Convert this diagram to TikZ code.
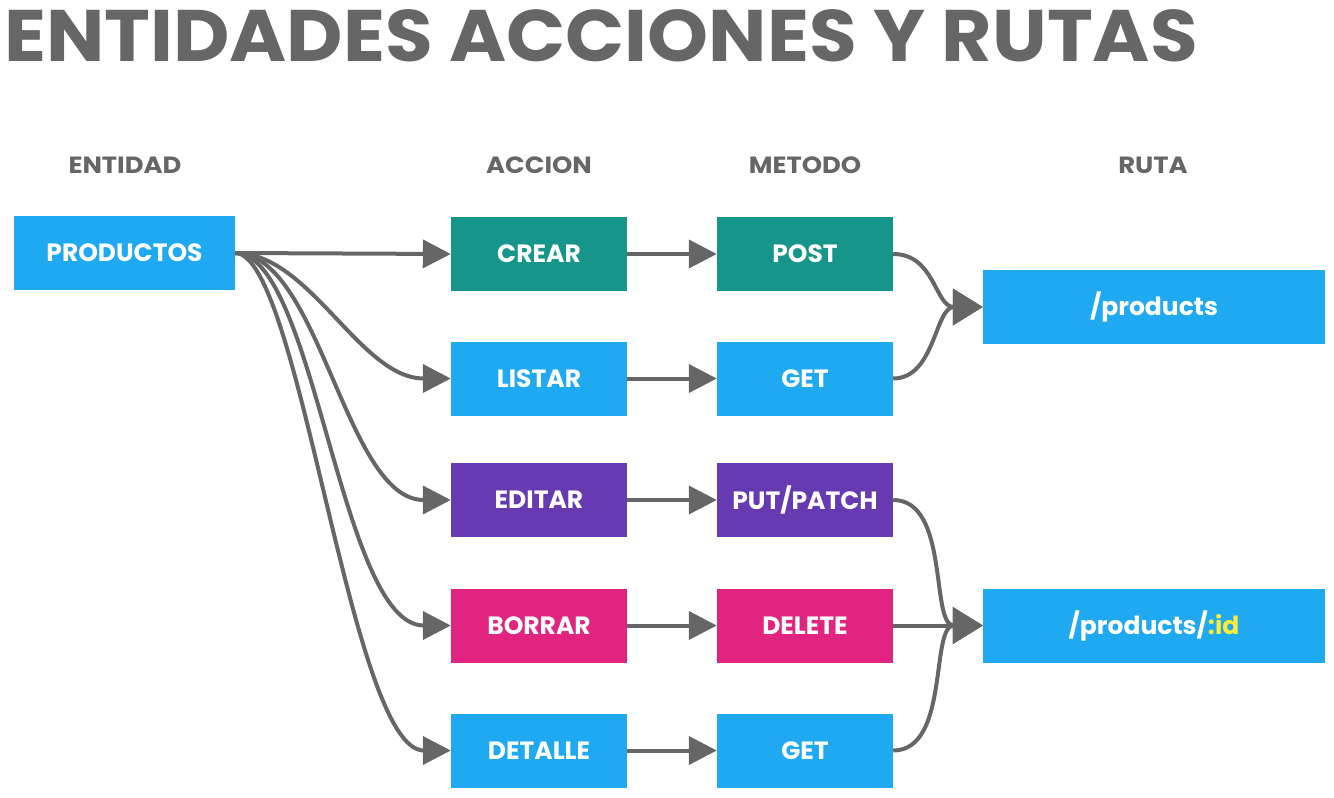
\documentclass[tikz,border=0pt]{standalone}
\usepackage{fontspec}
\setmainfont{Poppins}
\usetikzlibrary{arrows.meta}
\definecolor{cteal}{HTML}{16968A}
\definecolor{cblue}{HTML}{1EA9F0}
\definecolor{cpurple}{HTML}{673AB2}
\definecolor{cpink}{HTML}{E0247F}
\definecolor{cgray}{HTML}{666666}
\definecolor{cyellow}{HTML}{FFEB3B}
\newcommand{\hx}[1]{\scalebox{1.1}[1]{#1}}
\tikzset{
  box/.style={rectangle, inner sep=0pt, minimum width=176pt, minimum height=74pt, text=white, font=\fontsize{25}{28}\selectfont\bfseries},
  routebox/.style={box, minimum width=342pt, fill=cblue},
  header/.style={text=cgray, font=\fontsize{23.5}{26}\selectfont\bfseries},
  conn/.style={draw=cgray, line width=4pt, -{Triangle[length=28pt,width=28pt]}},
  rconn/.style={draw=cgray, line width=4pt, -{Triangle[length=30pt,width=36pt]}},
}
\begin{document}
\begin{tikzpicture}[x=1pt,y=-1pt]
\useasboundingbox (0,0) rectangle (1334,798);
\node[anchor=west, text=cgray, font=\fontsize{73}{80}\selectfont\bfseries, inner sep=0pt] (title) at (4,36) {\scalebox{1.063}[1]{ENTIDADES ACCIONES Y RUTAS}};
\node[header] (h1) at (125,165) {\hx{ENTIDAD}};
\node[header] (h2) at (539,165) {\hx{ACCION}};
\node[header] (h3) at (805,165) {\hx{METODO}};
\node[header] (h4) at (1153,165) {\hx{RUTA}};

\node[box, fill=cblue, minimum width=221pt] (prod) at (124.5,253) {PRODUCTOS};

\node[box, fill=cteal] (crear) at (539,254) {CREAR};
\node[box, fill=cblue] (listar) at (539,378.5) {LISTAR};
\node[box, fill=cpurple] (editar) at (539,500) {EDITAR};
\node[box, fill=cpink] (borrar) at (539,625.5) {BORRAR};
\node[box, fill=cblue] (detalle) at (539,750.5) {DETALLE};

\node[box, fill=cteal] (post) at (805,254) {POST};
\node[box, fill=cblue] (get1) at (805,378.5) {GET};
\node[box, fill=cpurple] (put) at (805,500) {PUT/PATCH};
\node[box, fill=cpink] (delete) at (805,625.5) {DELETE};
\node[box, fill=cblue] (get2) at (805,750.5) {GET};

\node[routebox] (r1) at (1154,307) {/products};
\node[routebox] (r2) at (1154,625.5) {/products/\textcolor{cyellow}{:id}};

\draw[conn] (prod.east) -- (crear.west);
\draw[conn] (prod.east) .. controls (310,253) and (360,378.5) .. (listar.west);
\draw[conn] (prod.east) .. controls (320,253) and (345,500) .. (editar.west);
\draw[conn] (prod.east) .. controls (315,253) and (340,625.5) .. (borrar.west);
\draw[conn] (prod.east) .. controls (300,253) and (350,750.5) .. (detalle.west);

\draw[conn] (crear) -- (post);
\draw[conn] (listar) -- (get1);
\draw[conn] (editar) -- (put);
\draw[conn] (borrar) -- (delete);
\draw[conn] (detalle) -- (get2);

\draw[rconn] (post.east) .. controls (935,254) and (935,307) .. (r1.west);
\draw[rconn] (get1.east) .. controls (935,378.5) and (935,307) .. (r1.west);
\draw[rconn] (put.east) .. controls (950,500) and (930,625.5) .. (r2.west);
\draw[rconn] (delete) -- (r2.west);
\draw[rconn] (get2.east) .. controls (950,750.5) and (930,625.5) .. (r2.west);
\end{tikzpicture}
\end{document}
